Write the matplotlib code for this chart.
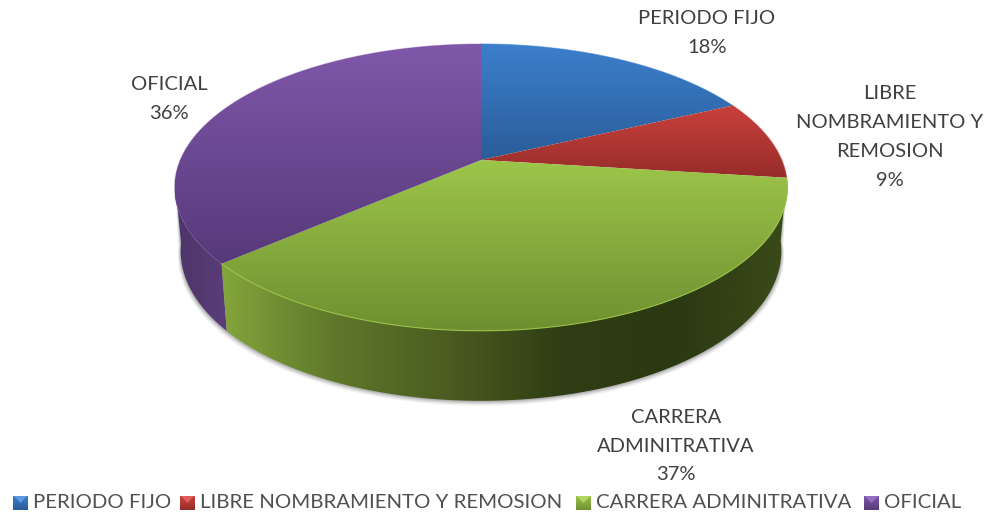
import numpy as np
import matplotlib
matplotlib.use("Agg")
import matplotlib.pyplot as plt
from matplotlib.colors import to_rgb
from matplotlib.patches import Polygon

categories = ["PERIODO FIJO", "LIBRE NOMBRAMIENTO Y REMOSION", "CARRERA ADMINITRATIVA", "OFICIAL"]
values = [18, 9, 36.6, 36.4]
slice_labels = ["PERIODO FIJO\n18%", "LIBRE\nNOMBRAMIENTO Y\nREMOSION\n9%", "CARRERA\nADMINITRATIVA\n37%", "OFICIAL\n36%"]

top_light = ["#3c7fcc", "#c9413c", "#9dc54a", "#8058aa"]
top_dark = ["#2a5d9a", "#962c2a", "#6f8f30", "#56397a"]
rim_alpha = [0.5, 0.5, 0.9, 0.35]
green_wall = ["#84a53b", "#5f772a", "#4a5c20", "#2f3e14", "#2b3912", "#3a4b19"]
purple_wall = ["#4c3469", "#54396f", "#5a3d7c"]
legend_light = ["#5a9ae2", "#e05e58", "#b2d862", "#9670c0"]
legend_dark = ["#2a5d9a", "#962c2a", "#6f8f30", "#56397a"]

label_pos = [(707, 33), (890, 137), (676, 446), (169, 99)]
legend_x = [13, 180, 576, 864]

cx, cy = 481, 160
a, b, p = 300.8, 138.2, 0.191


def top_xy(t):
    # t clockwise from twelve o'clock, with a bit of perspective
    u, v = np.sin(t), np.cos(t)
    w = 1 + p * v
    return cx + a * u / w, cy - b * v / w


def low_xy(t):
    x, y = top_xy(t)
    return cx + (x - cx) * 0.98, y + 62 - 8 * np.cos(t)


def gradient(ax, patch, colors, horizontal=False):
    x0, y0 = patch.get_xy().min(axis=0)
    x1, y1 = patch.get_xy().max(axis=0)
    stops = np.linspace(0, 1, len(colors))
    ramp = np.linspace(0, 1, 256)
    rgb = np.array([to_rgb(c) for c in colors])
    line = np.column_stack([np.interp(ramp, stops, rgb[:, k]) for k in range(3)])
    img = line[None, :, :] if horizontal else line[:, None, :]
    ax.add_patch(patch)
    im = ax.imshow(img, extent=[x0, x1, y1, y0], aspect="auto", interpolation="bilinear", zorder=patch.get_zorder())
    im.set_clip_path(patch)


fig = plt.figure(figsize=(9.87, 5.14), dpi=100)
ax = fig.add_axes([0, 0, 1, 1])
ax.axis("off")
plt.rcParams["font.family"] = ["Lato", "DejaVu Sans"]

edges = np.radians(np.concatenate([[0], np.cumsum(values)]) * 3.6)

# soft shadow under the wall
tt = np.linspace(np.radians(97), np.radians(262), 200)
for off, alpha in [(5, 0.05), (4, 0.07), (3, 0.09), (2, 0.12), (1, 0.15)]:
    lx, ly = low_xy(tt)
    sx, sy = top_xy(tt)
    pts = np.column_stack([np.r_[lx + off * np.sin(tt) * 0.6, sx[::-1]], np.r_[ly + off, sy[::-1]]])
    ax.add_patch(Polygon(pts, closed=True, fc="#404040", ec="none", alpha=alpha, zorder=1))

# walls, only the part at the front is seen
for i, colors in [(3, purple_wall), (2, green_wall)]:
    t = np.linspace(edges[i], edges[i + 1], 200)
    t = t[t < np.radians(262)]
    tx, ty = top_xy(t)
    lx, ly = low_xy(t)
    pts = np.column_stack([np.r_[tx, lx[::-1]], np.r_[ty, ly[::-1]]])
    patch = Polygon(pts, closed=True, fc="none", ec="none", zorder=2)
    gradient(ax, patch, colors, horizontal=True)

# top face
for i in range(4):
    t = np.linspace(edges[i], edges[i + 1], 200)
    tx, ty = top_xy(t)
    pts = np.column_stack([np.r_[cx, tx], np.r_[cy, ty]])
    patch = Polygon(pts, closed=True, fc="none", ec="none", zorder=3)
    gradient(ax, patch, [top_light[i], top_dark[i]])
    ax.plot(tx, ty, color=top_light[i], lw=0.8, alpha=rim_alpha[i], zorder=4)

for (x, y), s in zip(label_pos, slice_labels):
    ax.text(x, y, s, ha="center", va="center", fontsize=14.5, color="#404040", linespacing=1.85, zorder=5)

for i, name in enumerate(categories):
    x = legend_x[i]
    sq = Polygon([(x, 496), (x + 15, 496), (x + 15, 510), (x, 510)], closed=True, fc="none", ec="none", zorder=5)
    gradient(ax, sq, [top_light[i], legend_dark[i]])
    ax.add_patch(Polygon([(x + 1, 496), (x + 14, 496), (x + 7.5, 503)], closed=True, fc=legend_light[i], ec="none", zorder=6))
    ax.text(x + 20, 503, name, ha="left", va="center", fontsize=14.7, color="#505050", zorder=5)

ax.set_xlim(0, 987)
ax.set_ylim(514, 0)
fig.savefig("out.png", dpi=100, facecolor="white")
